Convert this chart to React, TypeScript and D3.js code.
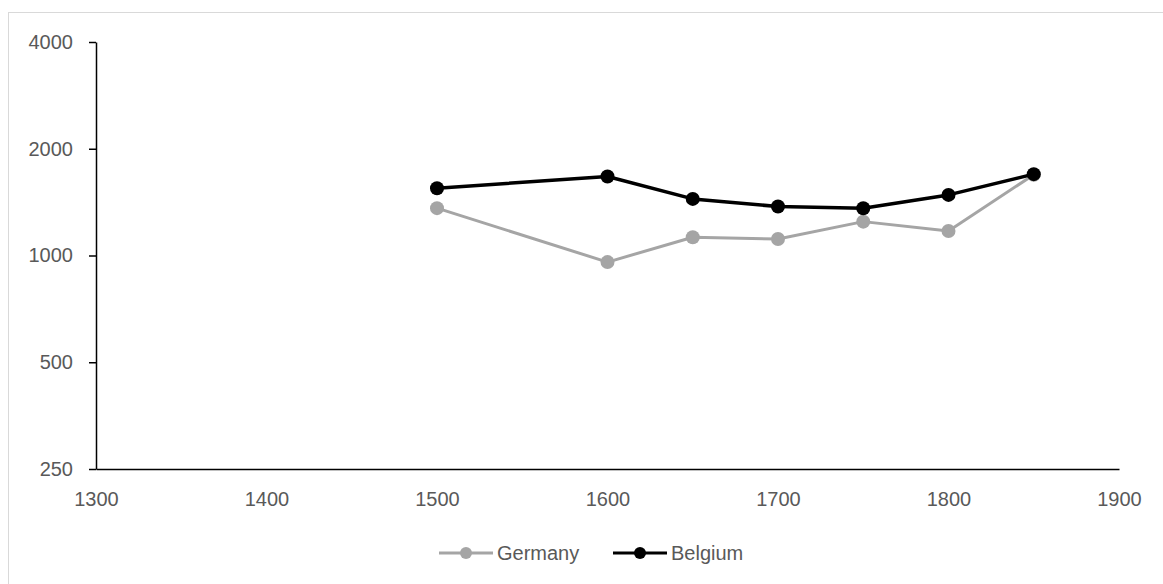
import React, { useEffect, useRef } from "react";
import * as d3 from "d3";

const years = [1500, 1600, 1650, 1700, 1750, 1800, 1850];
const germany = [1360, 958, 1126, 1113, 1246, 1173, 1690];
const belgium = [1548, 1670, 1444, 1374, 1359, 1482, 1696];
const xTicks = [1300, 1400, 1500, 1600, 1700, 1800, 1900];
const yTicks = [250, 500, 1000, 2000, 4000];

const series = [
  { name: "Germany", values: germany, color: "#A5A5A5" },
  { name: "Belgium", values: belgium, color: "#000000" },
];

const App: React.FC = () => {
  const svgRef = useRef<SVGSVGElement>(null);

  useEffect(() => {
    if (!svgRef.current) return;
    const svg = d3.select(svgRef.current);
    svg.selectAll("*").remove();

    const width = 1163;
    const height = 584;
    const margin = { top: 42, right: 44, bottom: 115, left: 96 };
    const font = "'Liberation Sans', Arial, sans-serif";
    const textColor = "#595959";

    svg.attr("width", width).attr("height", height);

    // chart frame (runs off the right and bottom edges)
    svg
      .append("rect")
      .attr("x", 8.5)
      .attr("y", 12.5)
      .attr("width", 1200)
      .attr("height", 600)
      .attr("fill", "#fff")
      .attr("stroke", "#D9D9D9")
      .attr("stroke-width", 1);

    const x = d3
      .scaleLinear()
      .domain([1300, 1900])
      .range([margin.left, width - margin.right]);

    const y = d3
      .scaleLog()
      .base(2)
      .domain([250, 4000])
      .range([height - margin.bottom, margin.top]);

    const yAxis = svg
      .append("g")
      .attr("transform", `translate(${margin.left},0)`)
      .call(
        d3
          .axisLeft(y)
          .tickValues(yTicks)
          .tickFormat((d) => String(d))
          .tickSize(7)
          .tickSizeOuter(0)
          .tickPadding(16)
      );

    const xAxis = svg
      .append("g")
      .attr("transform", `translate(0,${height - margin.bottom})`)
      .call(
        d3
          .axisBottom(x)
          .tickValues(xTicks)
          .tickFormat((d) => String(d))
          .tickSize(0)
          .tickPadding(23)
      );

    [xAxis, yAxis].forEach((g) => {
      g.selectAll("path, line").attr("stroke", "#000").attr("stroke-width", 1.5);
      g.selectAll("text")
        .attr("fill", textColor)
        .style("font-family", font)
        .style("font-size", "20px");
    });

    const line = d3
      .line<number>()
      .x((_, i) => x(years[i]))
      .y((d) => y(d));

    series.forEach((s) => {
      svg
        .append("path")
        .datum(s.values)
        .attr("fill", "none")
        .attr("stroke", s.color)
        .attr("stroke-width", s.name === "Belgium" ? 3.5 : 3)
        .attr("stroke-linejoin", "round")
        .attr("d", line);

      svg
        .selectAll(null)
        .data(s.values)
        .enter()
        .append("circle")
        .attr("cx", (_, i) => x(years[i]))
        .attr("cy", (d) => y(d))
        .attr("r", 7)
        .attr("fill", s.color);
    });

    // legend
    const legendY = 553;
    const legendX = [439, 613];
    series.forEach((s, i) => {
      const g = svg.append("g").attr("transform", `translate(${legendX[i]},${legendY})`);
      g.append("line")
        .attr("x1", 0)
        .attr("x2", 54)
        .attr("y1", 0)
        .attr("y2", 0)
        .attr("stroke", s.color)
        .attr("stroke-width", 3);
      g.append("circle").attr("cx", 27).attr("cy", 0).attr("r", 6).attr("fill", s.color);
      g.append("text")
        .attr("x", 58)
        .attr("y", 0)
        .attr("dy", "0.35em")
        .attr("fill", textColor)
        .style("font-family", font)
        .style("font-size", "20px")
        .text(s.name);
    });
  }, []);

  return (
    <svg
      ref={svgRef}
      style={{ position: "absolute", left: 0, top: 0, display: "block" }}
    />
  );
};

export default App;
